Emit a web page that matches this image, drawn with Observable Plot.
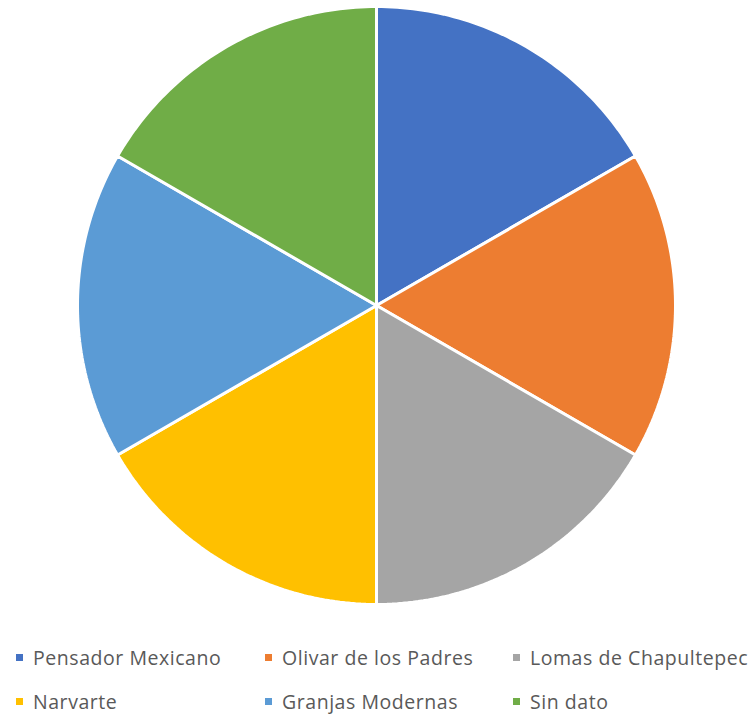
<!DOCTYPE html>
<html><head><meta charset="utf-8">
<script src="https://cdn.jsdelivr.net/npm/d3@7"></script>
<script src="https://cdn.jsdelivr.net/npm/@observablehq/plot@0.6"></script>
<style>
body{margin:0;background:#fff;}
#wrap{position:relative;width:753px;height:715px;}
#legend{position:absolute;left:0;top:0;width:753px;height:715px;pointer-events:none;font-family:"Open Sans",sans-serif;font-size:19.5px;letter-spacing:0.55px;color:#595959;}
.item{position:absolute;display:flex;align-items:center;height:26px;white-space:nowrap;}
.sw{width:7px;height:7px;margin-right:10px;}
</style></head>
<body><div id="wrap"><div id="chart"></div><div id="legend"></div></div>
<script>
const categories = ["Pensador Mexicano","Olivar de los Padres","Lomas de Chapultepec","Narvarte","Granjas Modernas","Sin dato"];
const values = [1,1,1,1,1,1];
const colors = ["#4472C4","#ED7D31","#A5A5A5","#FFC000","#5B9BD5","#70AD47"];

const arcs = d3.pie().sort(null).value(d => d)(values);
const pts = [];
arcs.forEach((a, i) => {
  const name = categories[i];
  pts.push({name, x: 0, y: 0});
  const n = 60;
  for (let k = 0; k <= n; k++) {
    const t = a.startAngle + (a.endAngle - a.startAngle) * k / n;
    pts.push({name, x: Math.sin(t), y: Math.cos(t)});
  }
});

const chart = Plot.plot({
  width: 753, height: 620,
  marginLeft: 77, marginRight: 78, marginTop: 6, marginBottom: 16,
  x: {domain: [-1, 1], axis: null},
  y: {domain: [-1, 1], axis: null},
  color: {domain: categories, range: colors},
  marks: [
    Plot.line(pts, {x: "x", y: "y", z: "name", fill: "name", stroke: "white", strokeWidth: 3, strokeLinejoin: "miter", curve: "linear-closed"})
  ]
});
document.getElementById("chart").appendChild(chart);

const legendPos = [[16,657],[265,657],[513,657],[16,701],[265,701],[513,701]];
const leg = document.getElementById("legend");
categories.forEach((c, i) => {
  const d = document.createElement("div");
  d.className = "item";
  d.style.left = legendPos[i][0] + "px";
  d.style.top = (legendPos[i][1] - 13) + "px";
  d.innerHTML = `<span class="sw" style="background:${colors[i]}"></span><span>${c}</span>`;
  leg.appendChild(d);
});
</script></body></html>
